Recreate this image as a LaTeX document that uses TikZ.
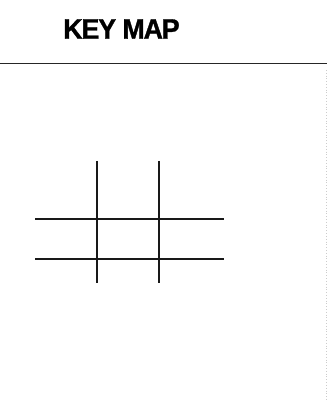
\documentclass[tikz,border=0pt]{standalone}
\usepackage{fontspec}
\setmainfont{Liberation Sans}
\newfontfamily\titlefont[FakeBold=1.2, LetterSpace=-4]{Liberation Sans Bold}
\usepackage{tikz}
\usetikzlibrary{positioning}

\begin{document}
\begin{tikzpicture}[
    x=0.03cm, y=-0.03cm,
    title/.style={font=\titlefont\fontsize{24}{26}\selectfont, inner sep=0pt, xscale=0.95},
    rule/.style={draw=black!85, line width=0.8pt},
    gridline/.style={draw=black!90, line width=1pt},
    edge/.style={draw=black!20, line width=0.4pt, dotted}
]
\useasboundingbox (0,0) rectangle (327,400);

\node[title] (keymap) at (121.5,29) {KEY MAP};

\draw[rule] (0,63) -- (327,63);

% street grid
\foreach \gx in {97,159}
  \draw[gridline] (\gx,161) -- (\gx,283);
\foreach \gy in {219,259}
  \draw[gridline] (35,\gy) -- (224,\gy);

\draw[edge] (326,70) -- (326,400);
\end{tikzpicture}
\end{document}
